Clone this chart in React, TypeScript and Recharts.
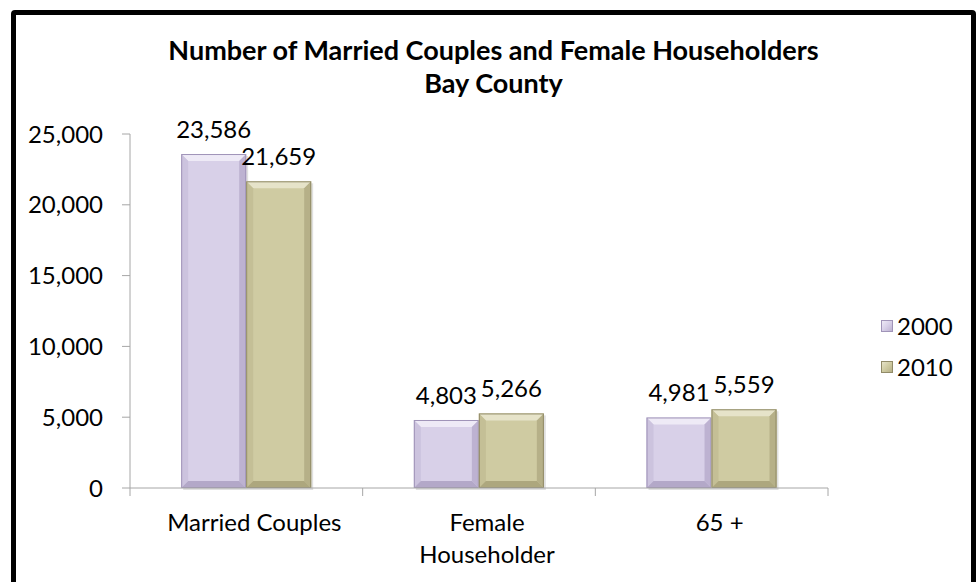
import React from "react";
import { BarChart, Bar, XAxis, YAxis, LabelList } from "recharts";

const categories = ["Married Couples", "Female Householder", "65 +"];
const categoryLines = [["Married Couples"], ["Female", "Householder"], ["65 +"]];
const series2000 = [23586, 4803, 4981];
const series2010 = [21659, 5266, 5559];
const yTicks = [0, 5000, 10000, 15000, 20000, 25000];
const seriesNames = ["2000", "2010"];

const data = categories.map((c, i) => ({
  category: c,
  idx: i,
  v2000: series2000[i],
  v2010: series2010[i],
}));

const W = 978;
const H = 582;
const M = { top: 134, right: 150, bottom: 34, left: 0 };
const Y_AXIS_W = 130;
const X_AXIS_H = 60;
const PLOT_W = W - M.left - M.right - Y_AXIS_W;
const FONT = "Lato, 'Open Sans', sans-serif";
const FS = 24;

const PAL = {
  "2000": { base: "#D8D0E8", top: "#EEEAF6", left: "#CCC3DE", right: "#BDB2D1", bottom: "#B3A8C8", edge: "#A094B8" },
  "2010": { base: "#CFCBA2", top: "#E6E3C9", left: "#C4BF96", right: "#B6B088", bottom: "#ADA77E", edge: "#918B68" },
};

const fmt = (v: number) => v.toLocaleString("en-US");

const BevelBar = (props: any) => {
  const { x, y, width: w, height: h, pal } = props;
  if (!h || h <= 0) return null;
  const b = Math.min(7, w / 4, h / 4);
  return (
    <g>
      <rect x={x + 2} y={y + 2} width={w} height={h} fill="#000" opacity={0.12} />
      <rect x={x} y={y} width={w} height={h} fill={pal.base} />
      <polygon points={`${x},${y} ${x + w},${y} ${x + w - b},${y + b} ${x + b},${y + b}`} fill={pal.top} />
      <polygon points={`${x},${y} ${x + b},${y + b} ${x + b},${y + h - b} ${x},${y + h}`} fill={pal.left} />
      <polygon points={`${x + w},${y} ${x + w},${y + h} ${x + w - b},${y + h - b} ${x + w - b},${y + b}`} fill={pal.right} />
      <polygon points={`${x},${y + h} ${x + w},${y + h} ${x + w - b},${y + h - b} ${x + b},${y + h - b}`} fill={pal.bottom} />
      <rect x={x + 0.5} y={y + 0.5} width={w - 1} height={h - 1} fill="none" stroke={pal.edge} strokeWidth={1} />
    </g>
  );
};

const XTick = (props: any) => {
  const { x, y, index } = props;
  const bw = PLOT_W / categories.length;
  const lines = categoryLines[index] || [String(props.payload?.value ?? "")];
  const left = x - bw / 2;
  const right = x + bw / 2;
  return (
    <g>
      <line x1={left} y1={y} x2={left} y2={y + 8} stroke="#A6A6A6" strokeWidth={1} />
      {index === categories.length - 1 && (
        <line x1={right} y1={y} x2={right} y2={y + 8} stroke="#A6A6A6" strokeWidth={1} />
      )}
      {lines.map((ln: string, k: number) => (
        <text key={k} x={x + 8} y={y + 43 + k * 32} textAnchor="middle" fill="#000" fontSize={FS} fontFamily={FONT}>
          {ln}
        </text>
      ))}
    </g>
  );
};

const LegendBox = () => (
  <div style={{ position: "absolute", left: 881, top: 305, fontFamily: FONT, fontSize: FS, color: "#000" }}>
    {seriesNames.map((n) => {
      const p = (PAL as any)[n];
      return (
        <div key={n} style={{ display: "flex", alignItems: "center", height: 41 }}>
          <span
            style={{
              display: "inline-block",
              width: 10,
              height: 10,
              marginRight: 4,
              background: `linear-gradient(135deg, ${p.top}, ${p.base} 50%, ${p.right})`,
              border: `1px solid ${p.edge}`,
            }}
          />
          <span>{n}</span>
        </div>
      );
    })}
  </div>
);

export default function App() {
  return (
    <div style={{ position: "absolute", left: 0, top: 0, width: W, height: H, overflow: "hidden", background: "#fff" }}>
      <div
        style={{
          position: "absolute",
          left: 11,
          top: 10,
          width: 965,
          height: 620,
          boxSizing: "border-box",
          border: "5px solid #000",
          borderRadius: 4,
        }}
      />
      <svg style={{ position: "absolute", left: 0, top: 0 }} width={W} height={120}>
        <text x={493.5} y={60} textAnchor="middle" fontFamily={FONT} fontWeight="bold" fontSize={27} fill="#000">
          Number of Married Couples and Female Householders
        </text>
        <text x={493.5} y={93} textAnchor="middle" fontFamily={FONT} fontWeight="bold" fontSize={27} fill="#000">
          Bay County
        </text>
      </svg>
      <div style={{ position: "absolute", left: 0, top: 0 }}>
        <BarChart width={W} height={H} data={data} margin={M} barCategoryGap="22%" barGap={0}>
          <YAxis
            width={Y_AXIS_W}
            domain={[0, 25000]}
            ticks={yTicks}
            tickFormatter={fmt}
            interval={0}
            tick={{ fill: "#000", fontSize: FS, fontFamily: FONT }}
            tickLine={{ stroke: "#A6A6A6" }}
            axisLine={{ stroke: "#A6A6A6" }}
            tickSize={8}
            tickMargin={19}
          />
          <XAxis
            dataKey="category"
            height={X_AXIS_H}
            interval={0}
            tick={<XTick />}
            tickLine={false}
            tickSize={0}
            tickMargin={0}
            axisLine={{ stroke: "#A6A6A6" }}
          />
          <Bar dataKey="v2000" name="2000" isAnimationActive={false} shape={(p: any) => <BevelBar {...p} pal={PAL["2000"]} />}>
            <LabelList dataKey="v2000" position="top" offset={16} formatter={fmt as any} fill="#000" fontSize={FS} fontFamily={FONT} />
          </Bar>
          <Bar dataKey="v2010" name="2010" isAnimationActive={false} shape={(p: any) => <BevelBar {...p} pal={PAL["2010"]} />}>
            <LabelList dataKey="v2010" position="top" offset={16} formatter={fmt as any} fill="#000" fontSize={FS} fontFamily={FONT} />
          </Bar>
        </BarChart>
      </div>
      <LegendBox />
    </div>
  );
}
